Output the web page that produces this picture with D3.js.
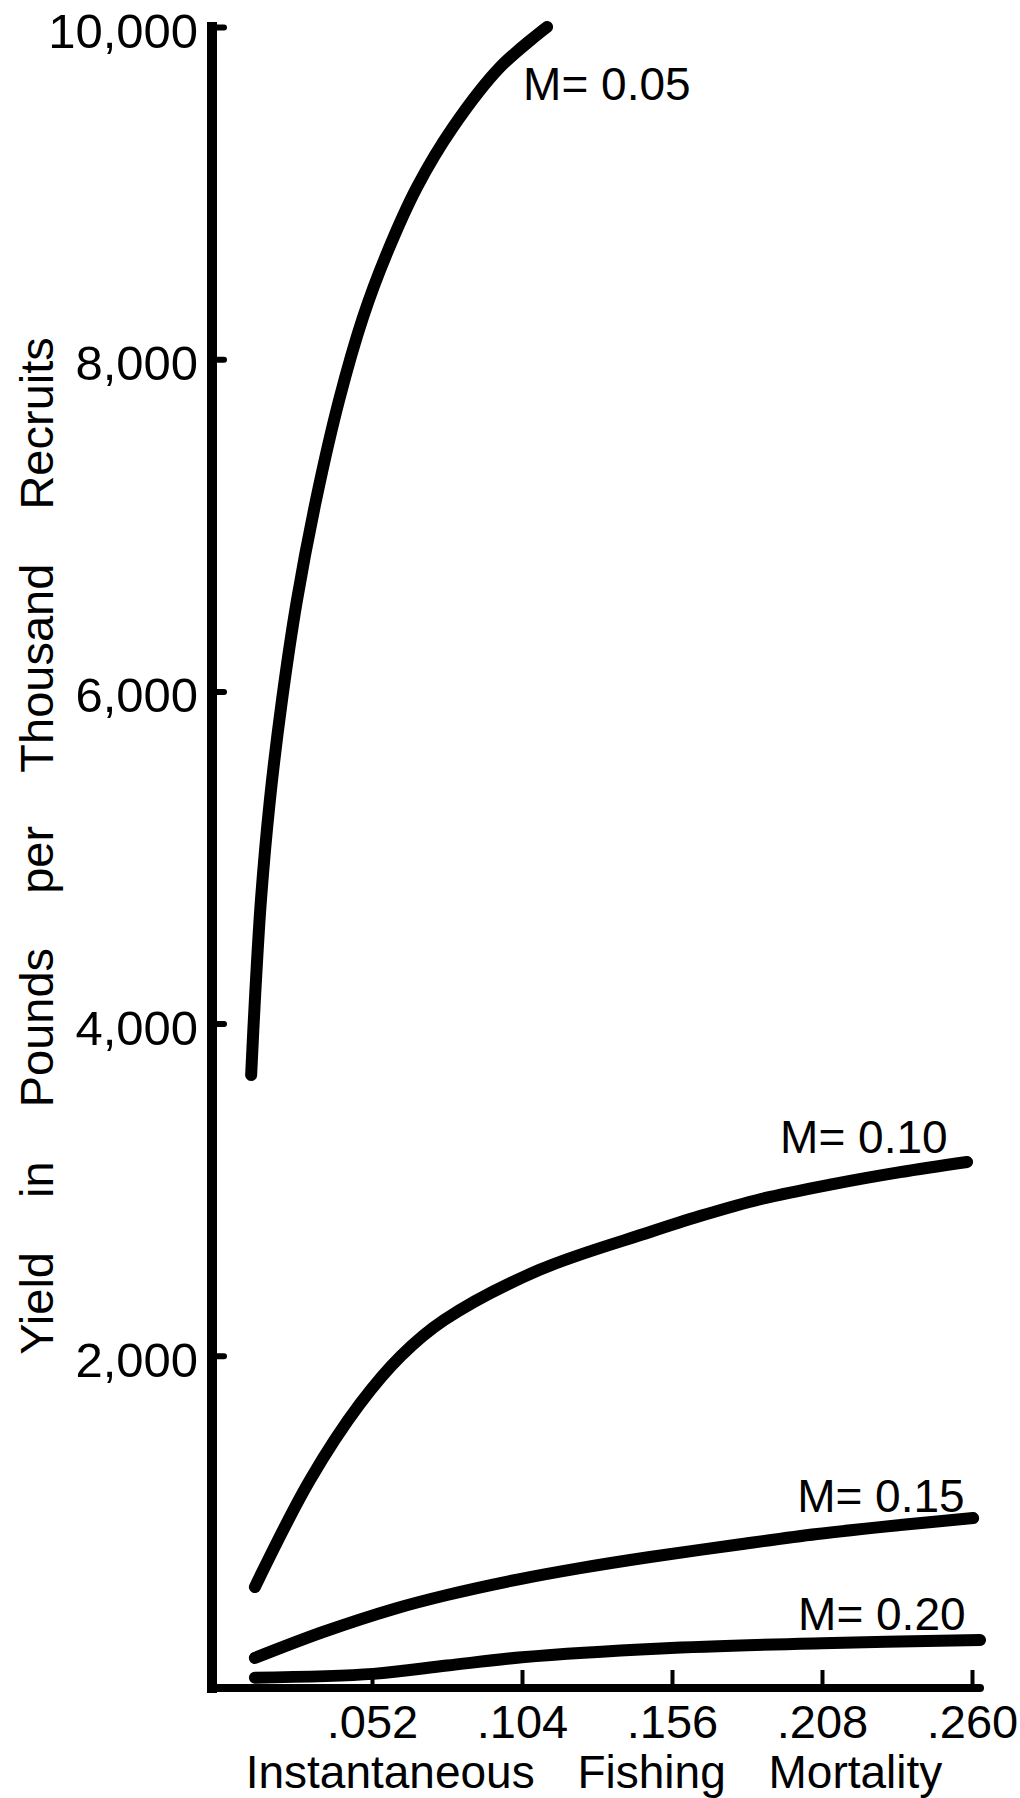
<!DOCTYPE html>
<html>
<head>
<meta charset="utf-8">
<script src="https://cdn.jsdelivr.net/npm/d3@7"></script>
<style>
  body { margin: 0; background: #fff; }
  text { font-family: "Liberation Sans", Arial, sans-serif; fill: #000; }
</style>
</head>
<body>
<div id="chart"></div>
<script>
// yield curves, [fishing mortality F, yield in lb per 1000 recruits]
var curveM005 = [[0.0101, 3690], [0.0114, 4142], [0.0135, 4744], [0.0166, 5346], [0.0208, 5948],
  [0.0260, 6550], [0.0326, 7152], [0.0406, 7754], [0.0489, 8253], [0.0572, 8639],
  [0.0676, 9036], [0.0801, 9397], [0.0964, 9758], [0.1127, 10000]];
var curveM010 = [[0.0114, 608], [0.0305, 1252], [0.0478, 1710], [0.0621, 2000], [0.0770, 2215],
  [0.1099, 2516], [0.1484, 2745], [0.1657, 2841], [0.1869, 2944], [0.2118, 3034],
  [0.2351, 3106], [0.2583, 3167]];
var curveM015 = [[0.0114, 181], [0.0350, 337], [0.0596, 476], [0.0780, 560], [0.1033, 656],
  [0.1241, 722], [0.1484, 789], [0.1779, 861], [0.2063, 927], [0.2351, 981], [0.2604, 1023]];
var curveM020 = [[0.0114, 62], [0.0524, 85], [0.0780, 135], [0.1040, 185], [0.1522, 238],
  [0.2080, 270], [0.2628, 289]];

var seriesLabels = ["M= 0.05", "M= 0.10", "M= 0.15", "M= 0.20"];
var xTickValues = [0.052, 0.104, 0.156, 0.208, 0.260];
var xTickLabels = [".052", ".104", ".156", ".208", ".260"];
var yTickValues = [2000, 4000, 6000, 8000, 10000];
var xTitle = "Instantaneous Fishing Mortality";
var yTitle = "Yield in Pounds per Thousand Recruits";

var W = 1020, H = 1798;
var x0 = 222, x1 = 972, yBottom = 1688, yTop = 27;
var yAxisX = 212;

var svg = d3
  .select("#chart")
  .append("svg")
  .attr("width", W)
  .attr("height", H);

svg.append("rect").attr("width", W).attr("height", H).attr("fill", "#fff");

var x = d3.scaleLinear().domain([0, 0.26]).range([x0, x1]);
var y = d3.scaleLinear().domain([0, 10000]).range([yBottom, yTop]);

// y axis, ticks pointing inward
var yAxis = svg
  .append("g")
  .attr("transform", "translate(" + yAxisX + ",0)")
  .call(
    d3.axisLeft(y)
      .tickValues(yTickValues)
      .tickFormat(d3.format(","))
      .tickSizeInner(-12)
      .tickSizeOuter(0)
      .tickPadding(14)
  );
yAxis.select(".domain")
  .attr("d", "M0," + y(0) + "V" + y(10000))
  .attr("stroke", "#000")
  .attr("stroke-width", 10)
  .attr("stroke-linecap", "square");
yAxis.selectAll(".tick line").attr("stroke", "#000").attr("stroke-width", 6).attr("stroke-linecap", "round");
yAxis.selectAll(".tick text")
  .attr("dy", "0.42em")
  .style("font-size", "49px")
  .style("font-family", "'Liberation Sans', Arial, sans-serif");

// x axis
var xAxis = svg
  .append("g")
  .attr("transform", "translate(0," + yBottom + ")")
  .call(
    d3.axisBottom(x)
      .tickValues(xTickValues)
      .tickFormat(function(d, i) { return xTickLabels[i]; })
      .tickSizeInner(-18)
      .tickSizeOuter(0)
      .tickPadding(17)
  );
xAxis.select(".domain")
  .attr("d", "M" + yAxisX + ",0H" + (x(0.26) + 8))
  .attr("stroke", "#000")
  .attr("stroke-width", 8)
  .attr("stroke-linecap", "round");
xAxis.selectAll(".tick line").attr("stroke", "#000").attr("stroke-width", 4);
xAxis.selectAll(".tick text")
  .style("font-size", "47px")
  .style("font-family", "'Liberation Sans', Arial, sans-serif");

// curves
var line = d3
  .line()
  .x(function(d) { return x(d[0]); })
  .y(function(d) { return y(d[1]); })
  .curve(d3.curveCatmullRom.alpha(0.5));

var curves = [curveM005, curveM010, curveM015, curveM020];

svg
  .selectAll(".curve")
  .data(curves)
  .enter()
  .append("path")
  .attr("class", "curve")
  .attr("d", line)
  .attr("fill", "none")
  .attr("stroke", "#000")
  .attr("stroke-width", 12)
  .attr("stroke-linecap", "round")
  .attr("stroke-linejoin", "round");

// curve labels, placed relative to the end of each curve
var labelOffsets = [
  { dx: -24, dy: 73 },
  { dx: -187, dy: -9 },
  { dx: -176, dy: -6 },
  { dx: -182, dy: -10 }
];

svg
  .selectAll(".mlabel")
  .data(curves)
  .enter()
  .append("text")
  .attr("class", "mlabel")
  .attr("x", function(d, i) { return x(d[d.length - 1][0]) + labelOffsets[i].dx; })
  .attr("y", function(d, i) { return y(d[d.length - 1][1]) + labelOffsets[i].dy; })
  .attr("text-anchor", "start")
  .style("font-size", "46px")
  .text(function(d, i) { return seriesLabels[i]; });

// axis titles
svg
  .append("text")
  .attr("x", 594)
  .attr("y", 1788)
  .attr("text-anchor", "middle")
  .style("font-size", "46px")
  .style("word-spacing", "30px")
  .text(xTitle);

svg
  .append("text")
  .attr("transform", "translate(53,846) rotate(-90)")
  .attr("text-anchor", "middle")
  .style("font-size", "47px")
  .style("word-spacing", "41px")
  .text(yTitle);
</script>
</body>
</html>
